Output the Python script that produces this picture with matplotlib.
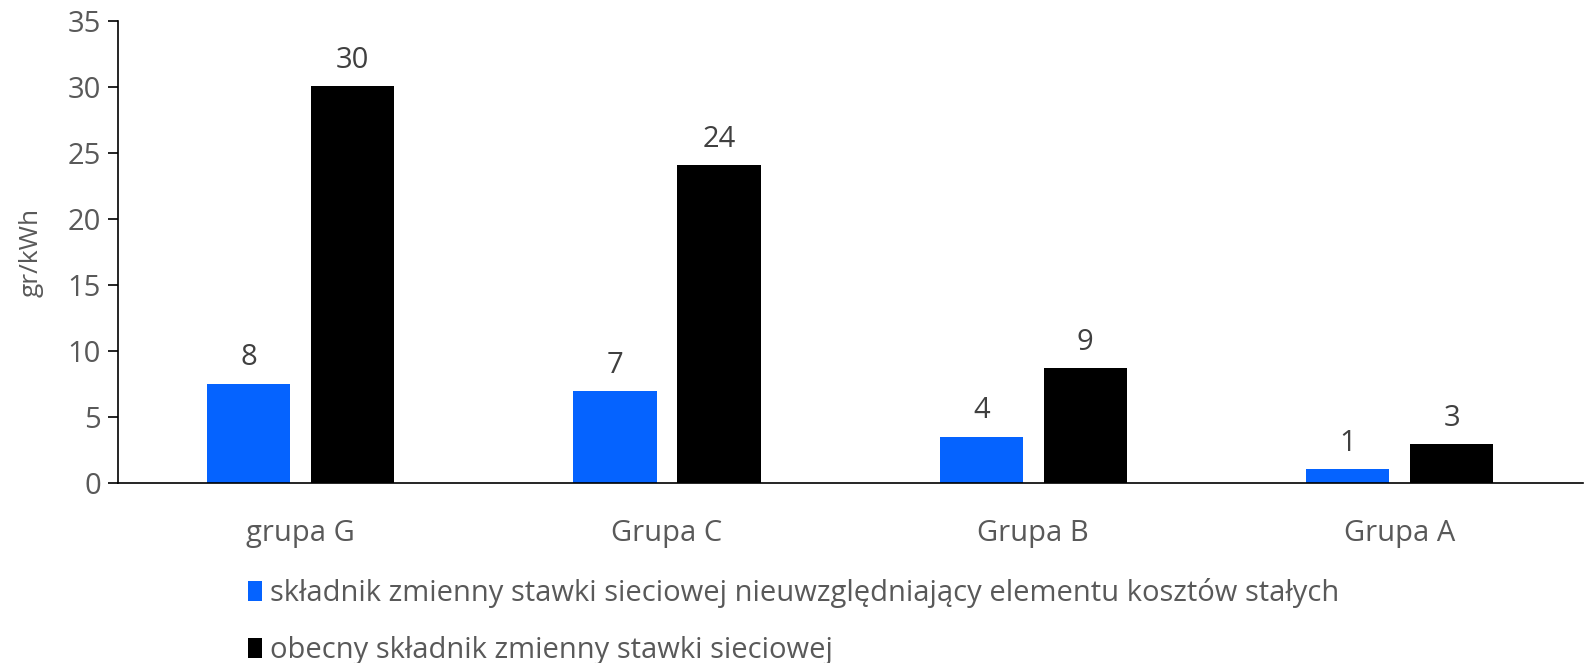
import matplotlib.pyplot as plt
import numpy as np
from matplotlib.patches import Patch

plt.rcParams['font.family'] = ['Open Sans', 'DejaVu Sans']

# data
groups = ["grupa G", "Grupa C", "Grupa B", "Grupa A"]
series_names = [
    "składnik zmienny stawki sieciowej nieuwzględniający elementu kosztów stałych",
    "obecny składnik zmienny stawki sieciowej",
]
blue_vals = [7.52, 6.95, 3.5, 1.03]
black_vals = [30.05, 24.1, 8.72, 2.92]
colors = ["#0563FF", "#000000"]

text_col = "#595959"
fs = 21

fig = plt.figure(figsize=(15.89, 6.63), dpi=100)
ax = fig.add_axes([0.074, 0.272, 0.922, 0.696])

x = np.arange(len(groups))
width = 0.227
offset = 0.142

for vals, col, sign in [(blue_vals, colors[0], -1), (black_vals, colors[1], 1)]:
    bars = ax.bar(x + sign * offset, vals, width=width, color=col)
    for b, v in zip(bars, vals):
        ax.annotate(f"{v:.0f}", (b.get_x() + b.get_width() / 2, b.get_height()),
                    xytext=(0, 8), textcoords="offset points",
                    ha="center", va="bottom", fontsize=fs, color="#404040")

ax.set_xlim(-0.5, len(groups) - 0.5)
ax.set_ylim(0, 35)
ax.set_yticks(range(0, 36, 5))
ax.set_xticks(x)
ax.set_xticklabels(groups)

for s in ["top", "right"]:
    ax.spines[s].set_visible(False)
ax.spines["left"].set_linewidth(1.2)
ax.spines["bottom"].set_linewidth(1.2)
ax.tick_params(axis="y", length=7, width=1.2, labelsize=fs, labelcolor=text_col, pad=5)
ax.tick_params(axis="x", length=0, labelsize=fs, labelcolor=text_col, pad=26)

ax.set_ylabel("gr/kWh", fontsize=19, color=text_col, labelpad=17)

handles = [Patch(facecolor=c, edgecolor="none") for c in colors]
fig.legend(handles, series_names, loc="upper left", bbox_to_anchor=(0.156, 0.128),
           frameon=False, fontsize=fs, labelcolor=text_col,
           handlelength=0.5, handleheight=0.65, handletextpad=0.25,
           labelspacing=0.97, borderpad=0, borderaxespad=0)

fig.savefig("out.png", dpi=100)
